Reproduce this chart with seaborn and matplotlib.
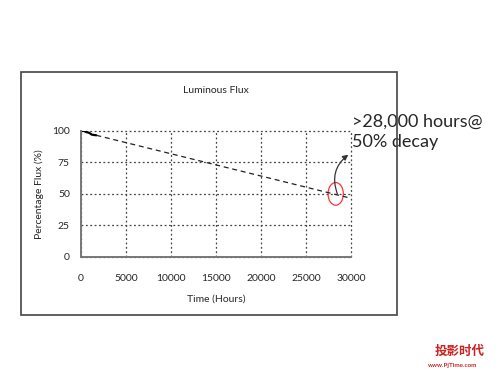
import matplotlib
matplotlib.use("Agg")
import matplotlib.pyplot as plt
import matplotlib.patches as mpatches
import pandas as pd
import seaborn as sns

# %% Data
measured_hours = [0, 300, 600, 900, 1200, 1700]
measured_flux = [100, 100, 99, 98.5, 97, 96.5]
projected_hours = [1700, 30000]
projected_flux = [96.5, 46.5]
x_ticks = [0, 5000, 10000, 15000, 20000, 25000, 30000]
y_ticks = [0, 25, 50, 75, 100]

measured = pd.DataFrame({"hours": measured_hours, "flux": measured_flux})
projected = pd.DataFrame({"hours": projected_hours, "flux": projected_flux})

# %% Figure
sns.set_style("white")
plt.rcParams["font.family"] = ["Lato", "DejaVu Sans"]

fig = plt.figure(figsize=(5, 3.75), dpi=100)
ax = fig.add_axes([0.162, 0.315, 0.54, 0.336])

# chart box (drawn over the call-out text, as in the slide)
fig.patches.append(mpatches.Rectangle((0.042, 0.16), 0.752, 0.648, transform=fig.transFigure,
                                      fill=False, edgecolor="#444444", linewidth=1.2,
                                      zorder=5))

sns.lineplot(data=measured, x="hours", y="flux", ax=ax, color="black", linewidth=1.6)
sns.lineplot(data=projected, x="hours", y="flux", ax=ax, color="#222222",
             linewidth=0.9, linestyle=(0, (4, 3)))

ax.set_xlim(0, 30000)
ax.set_ylim(0, 100)
ax.set_xticks(x_ticks)
ax.set_yticks(y_ticks)
ax.tick_params(labelsize=7.5, length=2, color="#666666")
ax.tick_params(axis="x", pad=10)
ax.tick_params(axis="y", pad=6)
ax.grid(True, linestyle=(0, (1.5, 2)), color="#444444", linewidth=0.9)
for g in ax.get_xgridlines() + ax.get_ygridlines():
    g.set_clip_on(False)
ax.set_axisbelow(True)
for side in ["top", "right"]:
    ax.spines[side].set_visible(False)
for side in ["left", "bottom"]:
    ax.spines[side].set_color("#777777")
    ax.spines[side].set_linewidth(1.4)

ax.set_xlabel("Time (Hours)", fontsize=7.5, labelpad=9)
ax.set_ylabel("Percentage Flux (%)", fontsize=7.5, labelpad=6)
ax.set_title("Luminous Flux", fontsize=7.5, pad=27)

# highlight and call-out
ax.add_patch(mpatches.Ellipse((28300, 50), 1700, 18, fill=False, edgecolor="#ff3333",
                              linewidth=0.9, clip_on=False))
ax.annotate("", xy=(0.701, 1 - 153 / 375), xycoords="figure fraction",
            xytext=(28600, 48), textcoords="data",
            arrowprops=dict(arrowstyle="-|>", connectionstyle="arc3,rad=-0.4",
                            color="#333333", linewidth=0.9, mutation_scale=8))
fig.text(0.705, 1 - 127 / 375, ">28,000 hours@", fontsize=13, ha="left", va="baseline")
fig.text(0.705, 1 - 147 / 375, "50% decay", fontsize=13, ha="left", va="baseline")

# watermark
fig.text(0.87, 0.055, "投影时代", fontsize=9, color="#cc2222", fontweight="bold",
         family=["Noto Sans CJK SC", "DejaVu Sans"], ha="left")
fig.text(0.855, 0.022, "www.PjTime.com", fontsize=4.5, color="#cc2222",
         fontweight="bold", ha="left")

fig.savefig("out.png", dpi=100)
